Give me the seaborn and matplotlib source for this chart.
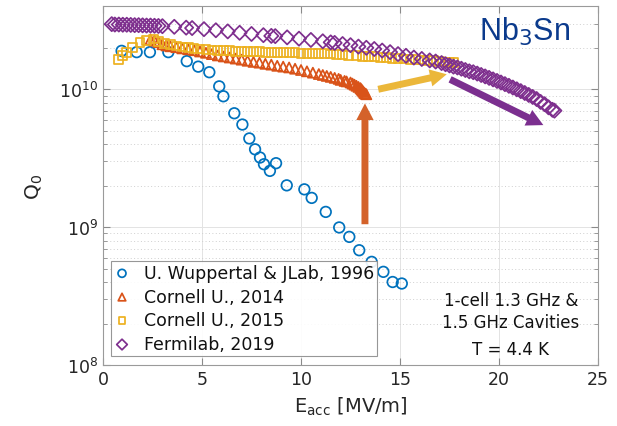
import numpy as np
import pandas as pd
import matplotlib
matplotlib.use("Agg")
import matplotlib.pyplot as plt
from matplotlib.ticker import LogLocator, NullFormatter, MultipleLocator
import seaborn as sns

# values: E_acc [MV/m] and Q0 (in units of 1e10)
wup_e = [0.94, 1.70, 2.37, 3.30, 4.23, 4.81, 5.37, 5.87, 6.08, 6.63, 7.04, 7.39,
         7.68, 7.93, 8.13, 8.43, 8.74, 9.28, 10.17, 10.54, 11.25, 11.93, 12.44,
         12.94, 13.57, 14.16, 14.63, 15.09]
wup_q = [1.90, 1.86, 1.86, 1.86, 1.60, 1.46, 1.33, 1.05, 0.89, 0.67, 0.555, 0.44,
         0.367, 0.32, 0.286, 0.256, 0.291, 0.201, 0.188, 0.163, 0.129, 0.0995, 0.085,
         0.068, 0.056, 0.0474, 0.040, 0.039]

c14_e = [2.4, 2.6, 2.8, 3.0, 3.2, 3.4, 3.7, 4.0, 4.3, 4.6, 4.9, 5.2, 5.5, 5.8, 6.1,
         6.4, 6.7, 7.0, 7.3, 7.6, 7.9, 8.2, 8.5, 8.8, 9.1, 9.4, 9.7, 10.0, 10.3, 10.6,
         10.9, 11.1, 11.3, 11.5, 11.7, 11.9, 12.0, 12.2, 12.3, 12.5, 12.6, 12.7, 12.8,
         12.9, 13.0, 13.05, 13.1, 13.15, 13.2, 13.25, 13.3]
c14_q = [2.30, 2.25, 2.20, 2.12, 2.08, 2.05, 2.02, 1.98, 1.95, 1.92, 1.88, 1.84, 1.80,
         1.76, 1.73, 1.70, 1.67, 1.64, 1.61, 1.58, 1.56, 1.53, 1.51, 1.48, 1.46, 1.44,
         1.41, 1.38, 1.35, 1.32, 1.29, 1.27, 1.25, 1.23, 1.21, 1.19, 1.17, 1.15, 1.14,
         1.12, 1.10, 1.08, 1.06, 1.04, 1.02, 1.00, 0.98, 0.96, 0.94, 0.93, 0.92]

c15_e = [0.77, 1.0, 1.2, 1.5, 1.87, 2.2, 2.54, 2.8, 3.1, 3.4, 3.7, 4.0, 4.3, 4.6, 4.9,
         5.2, 5.5, 5.8, 6.1, 6.4, 6.7, 7.0, 7.3, 7.6, 7.9, 8.2, 8.5, 8.8, 9.1, 9.4, 9.7,
         10.0, 10.3, 10.6, 10.9, 11.2, 11.5, 11.8, 12.1, 12.4, 12.8, 13.1, 13.4, 13.7,
         14.0, 14.3, 14.6, 14.9, 15.2, 15.5, 15.8, 16.1, 16.4, 16.7, 17.0, 17.3, 17.5, 17.7]
c15_q = [1.65, 1.75, 1.85, 2.00, 2.18, 2.25, 2.32, 2.22, 2.15, 2.10, 2.06, 2.03, 2.00,
         1.98, 1.96, 1.95, 1.93, 1.92, 1.90, 1.90, 1.89, 1.88, 1.88, 1.87, 1.87, 1.86,
         1.86, 1.85, 1.85, 1.84, 1.84, 1.83, 1.83, 1.82, 1.82, 1.81, 1.80, 1.79, 1.78,
         1.77, 1.76, 1.74, 1.73, 1.72, 1.71, 1.70, 1.68, 1.67, 1.66, 1.65, 1.64, 1.63,
         1.62, 1.61, 1.59, 1.58, 1.57, 1.56]

fnal_e = [0.44, 0.6, 0.8, 1.0, 1.2, 1.4, 1.6, 1.8, 2.0, 2.2, 2.4, 2.6, 2.8, 3.0, 3.6,
          4.2, 4.5, 5.1, 5.7, 6.3, 6.9, 7.5, 8.1, 8.5, 8.7, 9.3, 9.9, 10.5, 11.1, 11.5,
          11.7, 12.1, 12.5, 12.9, 13.3, 13.7, 14.1, 14.5, 14.9, 15.3, 15.7, 16.1, 16.5,
          16.8, 17.1, 17.3, 17.5, 17.7, 17.9, 18.1, 18.3, 18.5, 18.7, 18.9, 19.1, 19.3,
          19.5, 19.7, 19.9, 20.1, 20.3, 20.5, 20.7, 20.9, 21.1, 21.3, 21.5, 21.7, 21.9,
          22.1, 22.3, 22.5, 22.7, 22.8]
fnal_q = [2.97, 2.95, 2.95, 2.94, 2.94, 2.93, 2.92, 2.92, 2.91, 2.90, 2.90, 2.89, 2.88,
          2.87, 2.84, 2.80, 2.78, 2.73, 2.68, 2.63, 2.57, 2.52, 2.47, 2.44, 2.43, 2.38,
          2.33, 2.28, 2.23, 2.19, 2.17, 2.13, 2.09, 2.04, 2.00, 1.96, 1.91, 1.86, 1.80,
          1.75, 1.70, 1.66, 1.62, 1.59, 1.55, 1.52, 1.49, 1.46, 1.44, 1.41, 1.38, 1.35,
          1.33, 1.30, 1.27, 1.24, 1.21, 1.18, 1.15, 1.12, 1.09, 1.06, 1.03, 1.00, 0.97,
          0.94, 0.91, 0.88, 0.85, 0.81, 0.78, 0.74, 0.71, 0.70]

labels = ["U. Wuppertal & JLab, 1996", "Cornell U., 2014", "Cornell U., 2015", "Fermilab, 2019"]
colors = ["#0072BD", "#D95319", "#EDB120", "#7E2F8E"]
markers = ["o", "^", "s", "D"]
sizes = [58, 52, 40, 52]

# annotation arrows (tail, tip) in data coords
arrows = [
    ((13.23, 1.05e9), (13.23, 7.9e9), "#D4622A"),
    ((13.9, 1.0e10), (17.36, 1.285e10), "#EBB73A"),
    ((17.53, 1.18e10), (22.24, 5.5e9), "#7B2F8F"),
]

frames = []
for name, e, q in zip(labels, [wup_e, c14_e, c15_e, fnal_e], [wup_q, c14_q, c15_q, fnal_q]):
    frames.append(pd.DataFrame({"E": e, "Q": np.array(q) * 1e10, "src": name}))
data = pd.concat(frames, ignore_index=True)

sns.set_style("ticks")
plt.rcParams["font.family"] = ["DejaVu Sans"]
plt.rcParams["mathtext.fontset"] = "dejavusans"

fig = plt.figure(figsize=(6.17, 4.27), dpi=100)
ax = fig.add_axes([103 / 617, 61 / 427, 495 / 617, 358.7 / 427])
ax.set_yscale("log")

for name, c, m, s in zip(labels, colors, markers, sizes):
    sns.scatterplot(data=data[data["src"] == name], x="E", y="Q", marker=m, s=s,
                    color=c, facecolors="none", edgecolor=c, linewidth=1.25,
                    label=name, ax=ax, zorder=3)

for tail, tip, c in arrows:
    ax.annotate("", xy=tip, xytext=tail,
                arrowprops=dict(arrowstyle="simple,tail_width=0.5,head_width=1.25,head_length=1.2",
                                color=c, lw=0, shrinkA=0, shrinkB=0), zorder=4)

ax.set_xlim(0, 25)
ax.set_ylim(1e8, 4e10)
ax.xaxis.set_major_locator(MultipleLocator(5))
ax.yaxis.set_major_locator(LogLocator(base=10))
ax.yaxis.set_minor_locator(LogLocator(base=10, subs=np.arange(2, 10)))
ax.yaxis.set_minor_formatter(NullFormatter())

ax.grid(True, which="major", color="#e3e3e3", lw=0.7, ls="-")
ax.grid(True, which="minor", axis="y", color="#cfcfcf", lw=0.7, ls=(0, (1, 2.5)))
ax.set_axisbelow(True)
ax.tick_params(which="both", direction="in", top=True, right=True, colors="#8a8a8a",
               labelcolor="#262626", labelsize=12.5)
ax.tick_params(which="major", length=5)
ax.tick_params(which="minor", length=3)
for sp in ax.spines.values():
    sp.set_color("#9a9a9a")
    sp.set_linewidth(0.8)

ax.set_xlabel(r"E$_{\mathrm{acc}}$ [MV/m]", fontsize=14, color="#262626", labelpad=5)
ax.set_ylabel("Q$_0$", fontsize=14.5, color="#262626", labelpad=10)

ax.text(21.3, 2.65e10, "Nb$_3$Sn", fontsize=22, color="#0B3A8C", ha="center", va="center",
        family="Liberation Sans", math_fontfamily="custom")
ax.text(20.6, 2.45e8, "1-cell 1.3 GHz &\n1.5 GHz Cavities", fontsize=12, ha="center",
        va="center", linespacing=1.3, color="#111111")
ax.text(20.6, 1.31e8, "T = 4.4 K", fontsize=12, ha="center", va="center", color="#111111")

leg = ax.legend(loc="lower left", bbox_to_anchor=(0.0156, 0.026), borderaxespad=0,
                fontsize=12.5, frameon=True, fancybox=False, edgecolor="#8c8c8c",
                framealpha=0.9, handlelength=1.0, handletextpad=0.75, labelspacing=0.33,
                borderpad=0.15, markerscale=0.75)
leg.get_frame().set_linewidth(0.8)
for t in leg.get_texts():
    t.set_color("#111111")

fig.savefig("out.png", dpi=100)
